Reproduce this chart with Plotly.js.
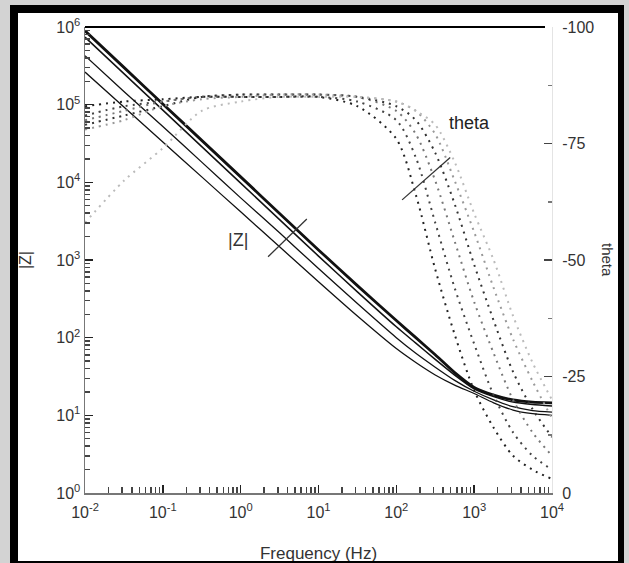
<!DOCTYPE html>
<html>
<head>
<meta charset="utf-8">
<script src="https://cdn.plot.ly/plotly-3.0.1.min.js"></script>
<style>
  html, body { margin:0; padding:0; background:#d3d3d3; width:629px; height:563px; overflow:hidden; }
  #white { position:absolute; left:18px; top:13px; width:600px; height:548px; background:#fff; }
  #plot { position:absolute; left:0; top:0; width:629px; height:563px; }
  #frame { position:absolute; left:10px; top:5px; width:600px; height:548px;
           border-left:8px solid #000; border-top:8px solid #000; border-right:6px solid #000; border-bottom:8px solid #000;
           pointer-events:none; }
</style>
</head>
<body>
<div id="white"></div>
<div id="plot"></div>
<div id="frame"></div>
<script>
// Frequencies (Hz)
const freq = [0.01, 0.0316, 0.1, 0.316, 1, 3.16, 10, 31.6, 100, 178, 316, 562, 1000, 1780, 3160, 5620, 10000];

// |Z| (ohm) for each curve
const zA = [891000, 302000, 102300, 34700, 11750, 3980, 1349, 468, 166, 100, 60.3, 35.5, 22.9, 18.2, 15.8, 14.8, 14.5];
const zB = [741000, 251000, 85100, 28800, 9770, 3310, 1122, 389, 138, 85, 52.5, 33, 21.9, 17.4, 14.8, 13.8, 13.2];
const zC = [427000, 148000, 52500, 18200, 6310, 2240, 776, 275, 100, 63, 41.7, 28.2, 20.4, 15.8, 12.9, 11.5, 11];
const zD = [263000, 93300, 33100, 11750, 4170, 1480, 525, 190, 72.4, 47.9, 33.1, 24.5, 19.1, 14.5, 11.7, 10.5, 10];

// Phase theta (degrees)
const th1 = [-83, -84, -84.5, -85, -85, -85, -85, -83, -76, -64, -48, -34, -22, -14, -8, -5, -3];
const th2 = [-81, -83, -84, -85, -85, -85, -85, -84, -80, -72, -58, -44, -32, -21, -13, -8, -5];
const th3 = [-80, -82, -84, -85, -85.5, -85.5, -85.5, -85, -82, -77, -67, -54, -41, -30, -20, -13, -8];
const th4 = [-79, -81, -83, -85, -85.5, -85.5, -85.5, -85, -83, -80, -73, -62, -49, -37, -26, -18, -12];
const th5 = [-78, -80, -83, -84.5, -85, -85.5, -85.5, -85, -84, -82, -77, -67, -56, -44, -33, -24, -16];
const th6 = [-58, -67, -74, -82, -84, -85, -85, -85, -84, -82, -79, -71, -60, -50, -38, -28, -20];

// Tick labels
const xTickVals = [0.01, 0.1, 1, 10, 100, 1000, 10000];
const xTickText = ['10<sup>-2</sup>', '10<sup>-1</sup>', '10<sup>0</sup>', '10<sup>1</sup>', '10<sup>2</sup>', '10<sup>3</sup>', '10<sup>4</sup>'];
const yTickVals = [1, 10, 100, 1000, 10000, 100000, 1000000];
const yTickText = ['10<sup>0</sup>', '10<sup>1</sup>', '10<sup>2</sup>', '10<sup>3</sup>', '10<sup>4</sup>', '10<sup>5</sup>', '10<sup>6</sup>'];
const y2TickVals = [-100, -75, -50, -25, 0];
const y2TickText = ['-100', '-75', '-50', '-25', '0'];

function logMinors(a, b) {
  const out = [];
  for (let k = a; k < b; k++) for (let m = 2; m <= 9; m++) out.push(m * Math.pow(10, k));
  return out;
}

const FONT = 'Liberation Sans, Arial, sans-serif';
const traces = [];
const zSeries = [zA, zB, zC, zD];
const zWidths = [2.8, 1.5, 1.3, 1.3];
zSeries.forEach((z, i) => traces.push({
  x: freq, y: z, type: 'scatter', mode: 'lines',
  line: { color: '#111', width: zWidths[i], shape: 'spline', smoothing: 0.6 },
  xaxis: 'x', yaxis: 'y', showlegend: false, hoverinfo: 'skip'
}));
const thSeries = [th1, th2, th3, th4, th5, th6];
const thColors = ['#222', '#444', '#777', '#333', '#999', '#bbb'];
thSeries.forEach((t, i) => traces.push({
  x: freq, y: t, type: 'scatter', mode: 'lines',
  line: { color: thColors[i], width: 2, dash: '2px,5px', shape: 'spline', smoothing: 0.8 },
  xaxis: 'x', yaxis: 'y2', showlegend: false, hoverinfo: 'skip'
}));

const layout = {
  width: 629, height: 563,
  margin: { l: 85, r: 77, t: 27, b: 70 },
  paper_bgcolor: 'rgba(0,0,0,0)',
  plot_bgcolor: 'rgba(0,0,0,0)',
  font: { family: FONT, size: 16, color: '#222' },
  showlegend: false,
  xaxis: {
    type: 'log', range: [-2, 4], tickmode: 'array', tickvals: xTickVals, ticktext: xTickText,
    ticks: 'inside', ticklen: 8, tickcolor: '#222', tickwidth: 1.5,
    showline: true, linecolor: '#777', linewidth: 1.5, showgrid: false, zeroline: false,
    minor: { tickmode: 'array', tickvals: logMinors(-2, 4), ticks: 'inside', ticklen: 6, tickcolor: '#444', showgrid: false },
    tickfont: { size: 16, color: '#333' }, ticklabelstandoff: 4,
    title: { text: 'Frequency (Hz)', font: { size: 17, color: '#333' }, standoff: 28 }
  },
  yaxis: {
    type: 'log', range: [0, 6], tickmode: 'array', tickvals: yTickVals, ticktext: yTickText,
    ticks: 'inside', ticklen: 8, tickcolor: '#222', tickwidth: 1.5,
    showline: true, linecolor: '#777', linewidth: 1.5, showgrid: false, zeroline: false,
    minor: { tickmode: 'array', tickvals: logMinors(0, 6), ticks: 'inside', ticklen: 5, tickcolor: '#444', showgrid: false },
    tickfont: { size: 16, color: '#333' },
    title: { text: '|Z|', font: { size: 16, color: '#333' }, standoff: 20 }
  },
  yaxis2: {
    overlaying: 'y', side: 'right', range: [0, -100], tickmode: 'array', tickvals: y2TickVals, ticktext: y2TickText,
    ticks: 'inside', ticklen: 8, tickcolor: '#444', tickwidth: 1.5,
    showline: true, linecolor: '#e4e4e4', linewidth: 1, showgrid: false, zeroline: false,
    minor: { dtick: 12.5, tick0: 0, ticks: 'inside', ticklen: 4, tickcolor: '#777', showgrid: false },
    tickfont: { size: 16, color: '#333' }, ticklabelstandoff: 6
  },
  shapes: [
    { type: 'line', xref: 'paper', yref: 'paper', x0: 0, x1: 0.985, y0: 1, y1: 1, line: { color: '#000', width: 2 } },
    { type: 'line', xref: 'paper', yref: 'paper', x0: 0.679, x1: 0.782, y0: 0.629, y1: 0.72, line: { color: '#333', width: 1.3 } },
    { type: 'line', xref: 'paper', yref: 'paper', x0: 0.392, x1: 0.475, y0: 0.507, y1: 0.588, line: { color: '#333', width: 1.3 } }
  ],
  annotations: [
    { text: 'theta', xref: 'paper', yref: 'paper', x: 0.824, y: 0.794, xanchor: 'center', yanchor: 'middle', showarrow: false, font: { size: 18, color: '#222' } },
    { text: '|Z|', xref: 'paper', yref: 'paper', x: 0.328, y: 0.543, xanchor: 'center', yanchor: 'middle', showarrow: false, font: { size: 18, color: '#333' } },
    { text: 'theta', xref: 'paper', yref: 'paper', x: 1.12, y: 0.5, xanchor: 'center', yanchor: 'middle', showarrow: false, textangle: 90, font: { size: 15, color: '#333' } }
  ]
};

Plotly.newPlot('plot', traces, layout, { staticPlot: true, displayModeBar: false });
</script>
</body>
</html>
